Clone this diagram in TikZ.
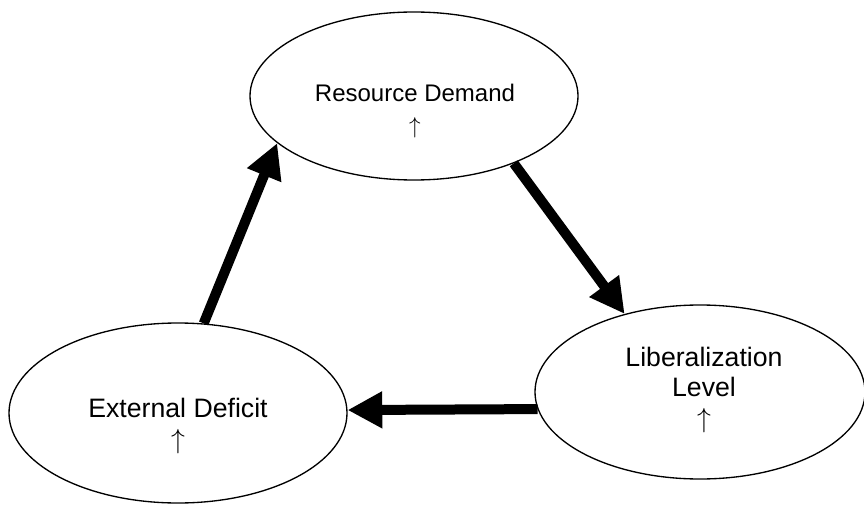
\documentclass[tikz,border=0pt]{standalone}
\usepackage{fontspec}
\setmainfont{Liberation Sans}
\usetikzlibrary{arrows.meta,shapes.geometric,positioning}

\begin{document}
\begin{tikzpicture}
      [x=0.75pt, y=-0.75pt, >={Triangle[length=26pt,width=26pt]},
      oval/.style={ellipse, draw, line width=1pt, inner sep=0pt},
      caption/.style={align=center, font=\fontsize{18}{24}\selectfont},
      bigcaption/.style={align=center, font=\fontsize{20}{23}\selectfont},
      push/.style={->, line width=7.5pt}]
      \useasboundingbox (0,0) rectangle (864,510);

      \node [oval, minimum width=246pt, minimum height=126pt] (RD) at (414,96) {};
      \node [caption] (RDtext) at (415,111) {Resource Demand\\$\uparrow$};
      \node [oval, minimum width=247.5pt, minimum height=130.5pt] (LL) at (700,392) {};
      \node [bigcaption] (LLtext) at (704,390) {Liberalization\\Level\\$\uparrow$};
      \node [oval, minimum width=253.5pt, minimum height=135pt] (ED) at (178,413) {};
      \node [bigcaption] (EDtext) at (178,426) {External Deficit\\$\uparrow$};

      \draw [push] (RD.-34) -- (LL.134);
      \draw [push] (LL.186) -- (ED.1);
      \draw [push] (ED.74) -- (RD.199);
    \end{tikzpicture}
\end{document}
